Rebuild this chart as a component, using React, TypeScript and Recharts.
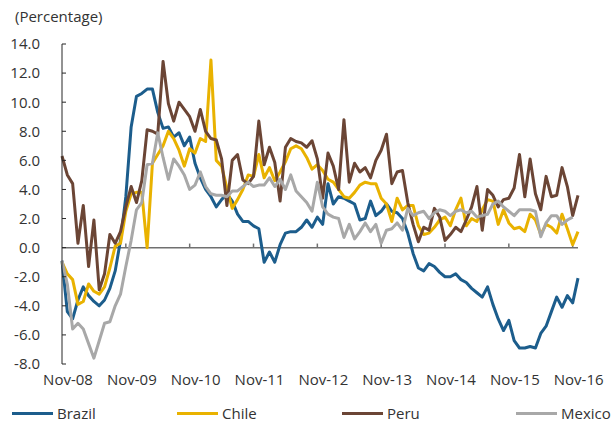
import React from 'react';
import { LineChart, Line, XAxis, YAxis, ReferenceLine } from 'recharts';

// monthly series, Nov-08 .. Dec-16 (percentage)
const brazil = [
  -0.9, -4.4, -4.9, -3.6, -2.7, -3.3, -3.7, -4.0, -3.6, -2.8,
  -1.6, 0.5, 3.5, 8.3, 10.4, 10.6, 10.9, 10.9, 9.3, 8.2,
  8.3, 7.6, 7.9, 7.0, 7.6, 5.8, 4.8, 4.0, 3.5, 2.8,
  3.3, 3.7, 3.2, 2.3, 1.8, 1.8, 1.5, 1.3, -1.0, -0.3,
  -1.0, 0.2, 1.0, 1.1, 1.1, 1.4, 1.9, 1.4, 2.1, 1.6,
  4.4, 3.0, 3.5, 3.4, 3.2, 3.0, 1.9, 2.0, 3.2, 2.2,
  2.5, 3.0, 2.5, 2.4, 2.0, 1.0, -0.4, -1.4, -1.6, -1.1,
  -1.3, -1.7, -2.0, -2.0, -1.8, -2.2, -2.4, -2.8, -3.1, -3.4,
  -2.7, -3.9, -4.9, -5.7, -5.0, -6.4, -6.9, -6.9, -6.8, -6.9,
  -5.9, -5.4, -4.4, -3.4, -4.1, -3.3, -3.8, -2.1,
];

const chile = [
  -1.0, -1.8, -2.2, -3.9, -3.7, -2.5, -3.0, -3.2, -2.7, -1.4,
  0.1, 0.3, 2.5, 3.7, 3.8, 3.8, 0.0, 5.8, 6.4, 7.0,
  8.0, 7.5, 6.7, 5.6, 6.8, 6.5, 7.5, 7.3, 12.9, 6.0,
  5.6, 4.1, 2.7, 3.3, 4.0, 5.0, 4.9, 6.4, 4.8, 5.5,
  4.6, 5.2, 5.9, 6.8, 7.0, 6.8, 6.2, 5.4, 5.7, 5.3,
  4.7, 4.5, 4.0, 3.5, 3.4, 3.8, 4.3, 4.5, 4.4, 4.4,
  3.4, 3.0, 1.8, 3.4, 2.6, 2.9, 2.9, 1.5, 0.9, 1.0,
  1.4, 1.9, 2.1, 1.5, 2.6, 3.4, 1.5, 2.0, 1.8, 2.6,
  3.3, 3.2, 1.6, 2.6, 1.7, 1.3, 1.4, 1.1, 2.3, 1.9,
  0.9, 1.6, 1.4, 1.0, 2.3, 1.3, 0.2, 1.1,
];

const peru = [
  6.3, 5.0, 4.4, 0.3, 2.9, -1.3, 1.9, -2.9, -1.8, 0.9,
  0.3, 1.1, 2.8, 4.2, 3.1, 4.6, 8.1, 8.0, 7.8, 12.8,
  9.9, 8.7, 10.0, 9.5, 9.0, 8.0, 9.5, 8.0, 7.5, 7.4,
  6.1, 2.9, 6.0, 6.4, 4.65, 4.4, 4.9, 8.7, 5.7, 6.9,
  5.85, 3.2, 6.9, 7.5, 7.3, 7.2, 6.9, 7.35, 6.1, 3.4,
  6.5, 5.6, 4.0, 8.8, 4.5, 5.8, 5.2, 5.5, 4.8, 6.0,
  6.7, 7.8, 4.4, 5.2, 5.3, 3.1, 1.6, 0.4, 1.4, 1.2,
  2.7, 2.1, 0.5, 0.9, 1.4, 1.1, 1.9, 2.8, 4.2, 1.2,
  4.0, 3.6, 2.8, 3.3, 3.4, 4.1, 6.4, 3.5, 6.1, 3.7,
  2.6, 4.9, 3.5, 3.6, 5.5, 4.2, 2.2, 3.6,
];

const mexico = [
  -0.9, -2.5, -5.6, -5.2, -5.6, -6.6, -7.6, -6.4, -5.2, -5.1,
  -4.0, -3.2, -1.3, 0.5, 2.6, 3.1, 5.7, 5.8, 7.9, 6.2,
  4.7, 6.1, 5.6, 5.0, 4.0, 4.3, 5.2, 4.2, 3.7, 3.6,
  3.6, 3.5, 3.9, 3.9, 4.2, 4.5, 4.2, 4.3, 4.3, 4.8,
  4.2, 4.7, 4.0, 5.0, 3.9, 3.5, 3.1, 2.5, 4.5, 2.8,
  2.3, 2.1, 2.0, 0.7, 1.6, 0.6, 1.1, 1.7, 1.1, 1.6,
  0.3, 1.2, 1.3, 1.7, 1.2, 2.7, 2.2, 2.4, 2.5, 2.0,
  2.4, 2.6, 2.5, 2.2, 2.5, 2.6, 2.4, 2.5, 2.1, 2.2,
  2.3, 3.0, 3.2, 2.8, 2.5, 2.2, 2.6, 2.6, 2.6, 2.5,
  0.75, 1.7, 2.2, 2.2, 1.6, 1.9, 2.1, null,
];

const monthNames = ['Jan', 'Feb', 'Mar', 'Apr', 'May', 'Jun', 'Jul', 'Aug', 'Sep', 'Oct', 'Nov', 'Dec'];
const xTicks = ['Nov-08', 'Nov-09', 'Nov-10', 'Nov-11', 'Nov-12', 'Nov-13', 'Nov-14', 'Nov-15', 'Nov-16'];
const yTicks = [-8, -6, -4, -2, 0, 2, 4, 6, 8, 10, 12, 14];

const series = [
  { key: 'Brazil', values: brazil, color: '#1c5d8c' },
  { key: 'Chile', values: chile, color: '#e9b200' },
  { key: 'Peru', values: peru, color: '#6b4535' },
  { key: 'Mexico', values: mexico, color: '#a8a8a8' },
];

// month label for each row, starting Nov-08
const data = brazil.map((_, k) => {
  const m = (10 + k) % 12;
  const yr = 8 + Math.floor((10 + k) / 12);
  const row: Record<string, any> = { month: `${monthNames[m]}-${String(yr).padStart(2, '0')}` };
  series.forEach((s) => { row[s.key] = s.values[k]; });
  return row;
});

const FONT = "'Open Sans', sans-serif";
const TEXT = '#333333';

const YTick = (props: any) => {
  const { x, y, payload } = props;
  return (
    <g>
      <line x1={x + 22} x2={x + 26} y1={y} y2={y} stroke="#262626" strokeWidth={1} />
      <text x={x} y={y} dy="0.355em" textAnchor="end" fontFamily={FONT} fontSize={15} fill={TEXT}>
        {Number(payload.value).toFixed(1)}
      </text>
    </g>
  );
};

const XTick = (props: any) => {
  const { x, y, payload } = props;
  return (
    <text x={x + 6} y={y} dy="0.71em" textAnchor="middle" fontFamily={FONT} fontSize={15} fill={TEXT}>
      {payload.value}
    </text>
  );
};

const legendPos = [12, 177, 342, 516];

export default function App() {
  return (
    <div style={{ position: 'absolute', left: 0, top: 0, width: 611, height: 426, background: '#fff' }}>
      <div style={{ position: 'absolute', left: 15, top: 6, fontFamily: FONT, fontSize: 15, color: TEXT }}>
        (Percentage)
      </div>
      <LineChart width={611} height={426} data={data} margin={{ top: 44, right: 33, bottom: 32, left: 0 }}>
        <XAxis
          dataKey="month"
          scale="point"
          padding={{ left: 0, right: 0 }}
          ticks={xTicks}
          interval={0}
          axisLine={false}
          tickLine={false}
          tickSize={0}
          tickMargin={10}
          height={30}
          tick={<XTick />}
        />
        <YAxis
          domain={[-8, 14]}
          ticks={yTicks}
          interval={0}
          width={62}
          axisLine={{ stroke: '#262626', strokeWidth: 1 }}
          tickLine={false}
          tickSize={0}
          tickMargin={22}
          tick={<YTick />}
          allowDataOverflow
        />
        <ReferenceLine y={0} stroke="#707070" strokeWidth={1.5} />
        {xTicks.slice(1).map((t) => (
          <ReferenceLine
            key={t}
            segment={[{ x: t, y: 0 }, { x: t, y: 0.28 }]}
            stroke="#707070"
            strokeWidth={1.5}
          />
        ))}
        {series.map((s) => (
          <Line
            key={s.key}
            type="linear"
            dataKey={s.key}
            stroke={s.color}
            strokeWidth={3}
            dot={false}
            activeDot={false}
            strokeLinejoin="round"
            isAnimationActive={false}
          />
        ))}
      </LineChart>
      {series.map((s, i) => (
        <div
          key={s.key}
          style={{ position: 'absolute', left: legendPos[i], top: 402, height: 22, display: 'flex', alignItems: 'center' }}
        >
          <span style={{ display: 'inline-block', width: 41, height: 3, background: s.color, marginRight: 4 }} />
          <span style={{ fontFamily: FONT, fontSize: 15, color: TEXT }}>{s.key}</span>
        </div>
      ))}
    </div>
  );
}
